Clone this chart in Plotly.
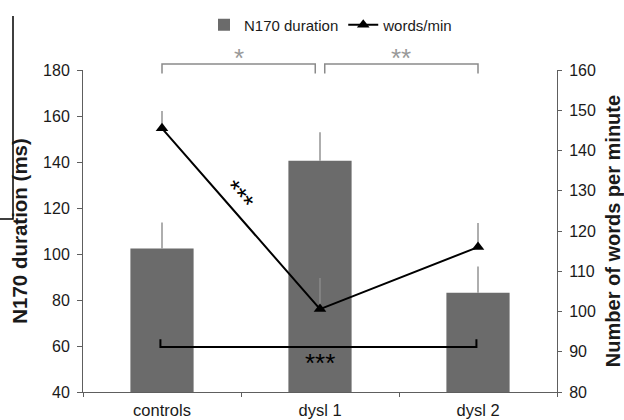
import plotly.graph_objects as go

categories = ["controls", "dysl 1", "dysl 2"]
n170_duration = [102.4, 140.5, 83.2]
n170_err_plus = [11.3, 12.4, 11.4]
words_per_min = [145.5, 100.6, 116.0]
words_err_plus = [4.3, 7.7, 6.0]
left_ticks = [40, 60, 80, 100, 120, 140, 160, 180]
right_ticks = [80, 90, 100, 110, 120, 130, 140, 150, 160]

FONT = "Liberation Sans, Arial, sans-serif"
BAR_COLOR = "#6b6b6b"
ERR_COLOR = "#8c8c8c"
AXIS_COLOR = "#5e5e5e"

# plot area geometry (pixels) used to convert paper positions
PL, PR, PT, PB = 83, 557, 70, 392
def px(x):
    return (x - PL) / (PR - PL)
def py(y):
    return (PB - y) / (PB - PT)

fig = go.Figure()
fig.add_trace(go.Bar(
    x=categories, y=n170_duration, name="N170 duration",
    marker=dict(color=BAR_COLOR, line=dict(width=0)),
    error_y=dict(type="data", symmetric=False, array=n170_err_plus,
                 arrayminus=[0, 0, 0], color=ERR_COLOR, thickness=1.4, width=0),
    yaxis="y",
))
fig.add_trace(go.Scatter(
    x=categories, y=words_per_min, name="words/min", mode="lines+markers",
    line=dict(color="black", width=2),
    marker=dict(symbol="triangle-up", size=11, color="black"),
    error_y=dict(type="data", symmetric=False, array=words_err_plus,
                 arrayminus=[0, 0, 0], color=ERR_COLOR, thickness=1.4, width=0),
    yaxis="y2",
))

shapes = []
# bottom black bracket controls - dysl 2
shapes.append(dict(type="path", xref="x", yref="y",
                   path="M -0.01,62.9 L -0.01,59.6 L 1.99,59.6 L 1.99,62.9",
                   line=dict(color="black", width=2)))
# top gray brackets
yt, yb = py(64), py(73.5)
shapes.append(dict(type="path", xref="x", yref="paper",
                   path=f"M 0,{yb} L 0,{yt} L 0.97,{yt} L 0.97,{yb}",
                   line=dict(color="#8a8a8a", width=1.5)))
shapes.append(dict(type="path", xref="x", yref="paper",
                   path=f"M 1.03,{yb} L 1.03,{yt} L 2,{yt} L 2,{yb}",
                   line=dict(color="#8a8a8a", width=1.5)))
# left-edge crop frame line
shapes.append(dict(type="path", xref="paper", yref="paper",
                   path=f"M {px(13)},{py(16)} L {px(13)},{py(219)} L {px(0)},{py(219)}",
                   line=dict(color="black", width=1.5)))

annotations = [
    dict(text="*", x=0.49, y=py(58), xref="x", yref="paper", showarrow=False,
         font=dict(family=FONT, size=26, color="#999999"), yanchor="middle"),
    dict(text="**", x=1.51, y=py(58), xref="x", yref="paper", showarrow=False,
         font=dict(family=FONT, size=26, color="#999999"), yanchor="middle"),
    dict(text="***", x=1, y=52.5, xref="x", yref="y", showarrow=False,
         font=dict(family=FONT, size=26, color="black"), yanchor="middle"),
    dict(text="***", x=0.485, y=129.0, xref="x", yref="y2", showarrow=False,
         textangle=49, font=dict(family=FONT, size=26, color="black")),
]

fig.update_layout(
    template="none",
    width=624, height=420,
    margin=dict(l=PL, r=624 - PR, t=PT, b=420 - PB, pad=0, autoexpand=False),
    paper_bgcolor="white", plot_bgcolor="white",
    font=dict(family=FONT, size=16, color="#1a1a1a"),
    bargap=0.6,
    showlegend=True,
    legend=dict(orientation="h", x=px(331), xanchor="center", y=py(25), yanchor="middle",
                font=dict(size=15), itemwidth=30, tracegroupgap=0, bgcolor="rgba(0,0,0,0)"),
    xaxis=dict(type="category", categoryarray=categories, range=[-0.5, 2.5], automargin=False,
               showline=True, linecolor=AXIS_COLOR, linewidth=1,
               ticks="outside", tickson="boundaries", ticklen=4, tickcolor=AXIS_COLOR,
               showgrid=False, tickfont=dict(size=16.5), ticklabelstandoff=3),
    yaxis=dict(range=[40, 180], tickvals=left_ticks, showline=True, linecolor=AXIS_COLOR,
               automargin=False,
               ticks="outside", ticklen=5, tickcolor=AXIS_COLOR, showgrid=False, zeroline=False,
               title=dict(text="<b>N170 duration (ms)</b>", standoff=9, font=dict(size=20.5)),
               tickfont=dict(size=16), ticklabelstandoff=4),
    yaxis2=dict(range=[80, 160], tickvals=right_ticks, overlaying="y", side="right",
                automargin=False,
                showline=True, linecolor=AXIS_COLOR, ticks="outside", ticklen=4,
                tickcolor=AXIS_COLOR, showgrid=False, zeroline=False,
                title=dict(text="<b>Number of words per minute</b>", standoff=14, font=dict(size=20)),
                tickfont=dict(size=16), ticklabelstandoff=4),
    shapes=shapes,
    annotations=annotations,
)

fig.write_html("out.html")
